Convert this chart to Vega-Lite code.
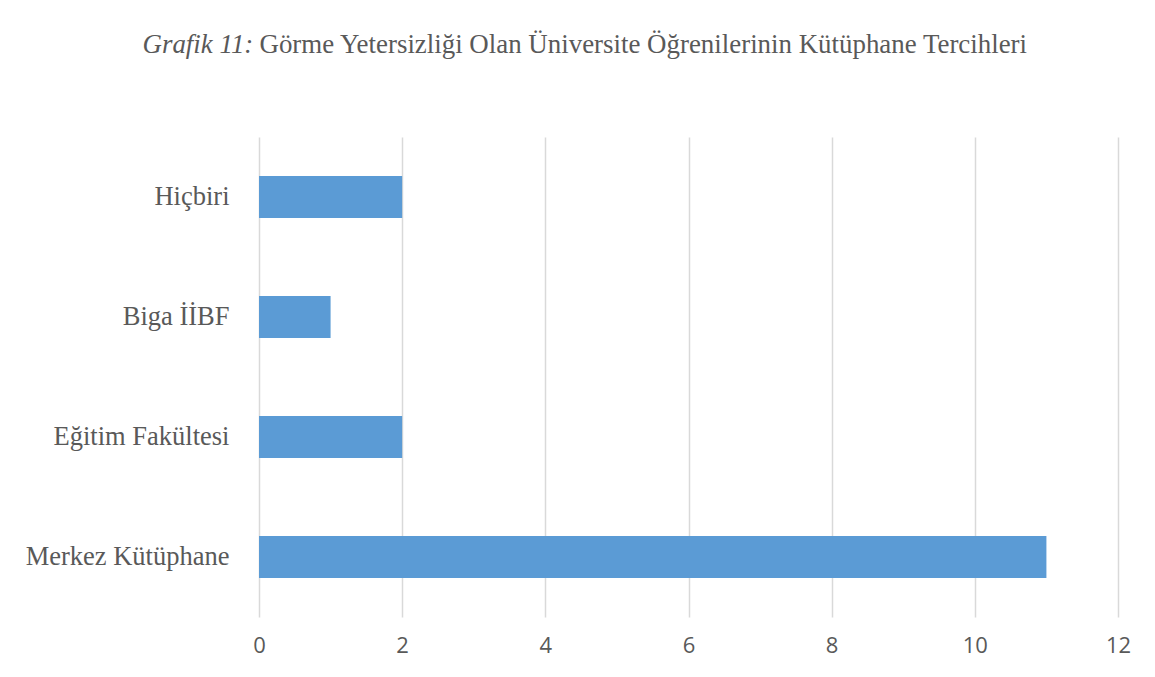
{
  "$schema": "https://vega.github.io/schema/vega-lite/v6.json",
  "width": 859,
  "height": 480,
  "autosize": {"type": "none"},
  "padding": {"left": 259, "top": 137, "right": 37, "bottom": 60},
  "background": "white",
  "data": {
    "values": [
      {"kutuphane": "Hiçbiri", "sayi": 2},
      {"kutuphane": "Biga İİBF", "sayi": 1},
      {"kutuphane": "Eğitim Fakültesi", "sayi": 2},
      {"kutuphane": "Merkez Kütüphane", "sayi": 11}
    ]
  },
  "mark": {"type": "bar", "color": "#5b9bd5"},
  "encoding": {
    "y": {
      "field": "kutuphane",
      "type": "nominal",
      "sort": null,
      "scale": {"paddingInner": 0.65, "paddingOuter": 0.325},
      "axis": {
        "title": "Grafik 11:",
        "titleFont": "Liberation Serif",
        "titleFontSize": 26.9,
        "titleFontStyle": "italic",
        "titleFontWeight": "normal",
        "titleColor": "#595959",
        "titleAngle": 0,
        "titleAlign": "left",
        "titleBaseline": "alphabetic",
        "titleX": -117,
        "titleY": -85,
        "domain": false,
        "ticks": false,
        "labelFont": "Liberation Serif",
        "labelFontSize": 26.5,
        "labelColor": "#595959",
        "labelPadding": 30,
        "labelLimit": 400
      }
    },
    "x": {
      "field": "sayi",
      "type": "quantitative",
      "scale": {"domain": [0, 12], "nice": false},
      "axis": {
        "title": "Görme Yetersizliği Olan Üniversite Öğrenilerinin Kütüphane Tercihleri",
        "titleFont": "Liberation Serif",
        "titleFontSize": 26.9,
        "titleFontStyle": "normal",
        "titleFontWeight": "normal",
        "titleColor": "#595959",
        "titleAngle": 0,
        "titleAlign": "left",
        "titleBaseline": "alphabetic",
        "titleX": 0,
        "titleY": -565,
        "titleLimit": 1000,
        "values": [0, 2, 4, 6, 8, 10, 12],
        "domain": false,
        "ticks": false,
        "grid": true,
        "gridColor": "#d9d9d9",
        "gridWidth": 1.5,
        "labelFont": "Open Sans",
        "labelFontSize": 22,
        "labelColor": "#595959",
        "labelPadding": 18,
        "labelFlush": false
      }
    }
  },
  "config": {"view": {"stroke": null}}
}
